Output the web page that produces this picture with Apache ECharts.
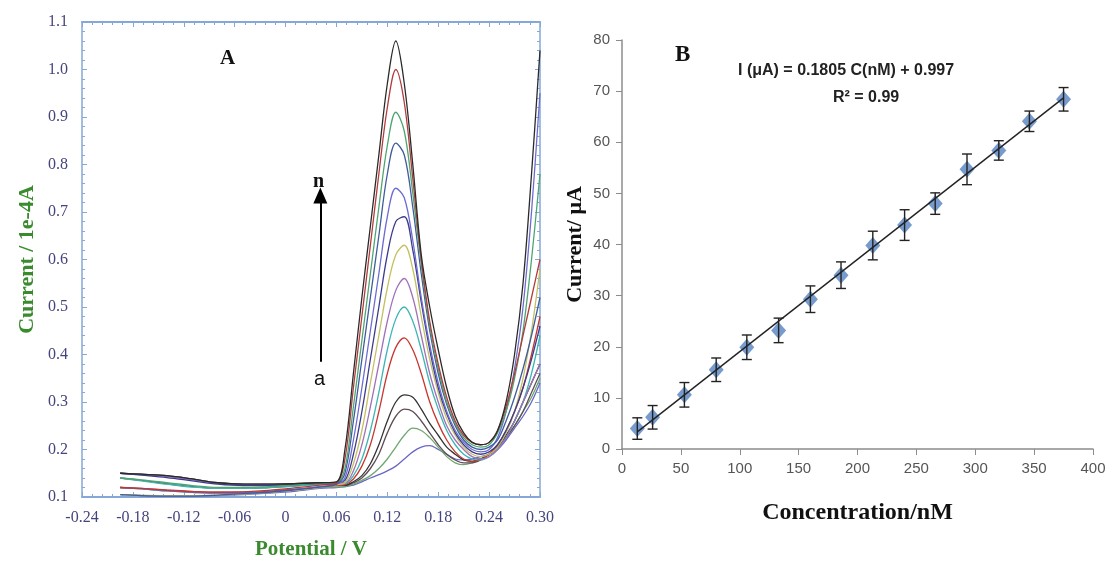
<!DOCTYPE html>
<html>
<head>
<meta charset="utf-8">
<script src="https://cdn.jsdelivr.net/npm/echarts@6/dist/echarts.min.js"></script>
<style>
  html, body { margin: 0; padding: 0; background: #fff; }
  #main { width: 1115px; height: 573px; }
</style>
</head>
<body>
<div id="main"></div>
<script>
// panel A: voltammograms a..n, potential in V, current in 1e-4 A
var potential = [-0.195, -0.17, -0.14, -0.11, -0.08, -0.05, -0.02, 0.01, 0.04, 0.06,
  0.07, 0.08, 0.09, 0.10, 0.11, 0.12, 0.13, 0.14, 0.15, 0.16,
  0.17, 0.18, 0.19, 0.20, 0.21, 0.22, 0.23, 0.24, 0.25, 0.26,
  0.27, 0.28, 0.29, 0.30];

var curveNames = ['a', 'b', 'c', 'd', 'e', 'f', 'g', 'h', 'i', 'j', 'k', 'l', 'm', 'n'];
var curveColors = ['#6a66c8', '#6fa86f', '#5e4d55', '#333333', '#c8372f', '#3fb4b4', '#a070b8',
  '#c4c062', '#3c3c8e', '#6c6cd0', '#3f5c9c', '#4ea572', '#b23c3c', '#2a2a2a'];

var cur_a = [0.105, 0.103, 0.102, 0.102, 0.103, 0.105, 0.108, 0.112, 0.118, 0.120,
  0.122, 0.125, 0.132, 0.140, 0.147, 0.155, 0.165, 0.180, 0.195, 0.205,
  0.208, 0.200, 0.190, 0.180, 0.178, 0.180, 0.185, 0.190, 0.200, 0.220,
  0.245, 0.270, 0.300, 0.340];
var cur_b = [0.120, 0.117, 0.113, 0.110, 0.108, 0.108, 0.110, 0.115, 0.120, 0.121,
  0.122, 0.127, 0.135, 0.145, 0.160, 0.180, 0.205, 0.230, 0.245, 0.240,
  0.225, 0.205, 0.185, 0.172, 0.168, 0.172, 0.180, 0.190, 0.205, 0.225,
  0.250, 0.280, 0.310, 0.350];
var cur_c = [0.140, 0.135, 0.128, 0.122, 0.118, 0.118, 0.120, 0.123, 0.127, 0.126,
  0.124, 0.130, 0.140, 0.160, 0.190, 0.235, 0.270, 0.285, 0.280, 0.260,
  0.235, 0.210, 0.190, 0.178, 0.172, 0.172, 0.178, 0.190, 0.205, 0.225,
  0.250, 0.280, 0.320, 0.360];
var cur_d = [0.150, 0.148, 0.145, 0.138, 0.130, 0.127, 0.127, 0.128, 0.130, 0.128,
  0.125, 0.132, 0.145, 0.170, 0.210, 0.260, 0.300, 0.315, 0.310, 0.285,
  0.255, 0.230, 0.205, 0.190, 0.178, 0.175, 0.180, 0.190, 0.205, 0.230,
  0.260, 0.300, 0.340, 0.380];
var cur_e = [0.120, 0.118, 0.115, 0.112, 0.110, 0.110, 0.112, 0.116, 0.121, 0.124,
  0.126, 0.138, 0.165, 0.210, 0.280, 0.360, 0.415, 0.435, 0.410, 0.360,
  0.300, 0.255, 0.220, 0.195, 0.180, 0.175, 0.178, 0.190, 0.210, 0.240,
  0.280, 0.330, 0.400, 0.480];
var cur_f = [0.140, 0.134, 0.127, 0.121, 0.118, 0.118, 0.120, 0.123, 0.126, 0.127,
  0.128, 0.145, 0.180, 0.240, 0.320, 0.410, 0.475, 0.500, 0.470, 0.410,
  0.340, 0.285, 0.240, 0.210, 0.190, 0.180, 0.178, 0.185, 0.200, 0.225,
  0.260, 0.300, 0.360, 0.440];
var cur_g = [0.150, 0.147, 0.143, 0.136, 0.129, 0.126, 0.126, 0.127, 0.129, 0.130,
  0.130, 0.155, 0.210, 0.290, 0.380, 0.470, 0.535, 0.560, 0.520, 0.440,
  0.360, 0.300, 0.250, 0.220, 0.200, 0.185, 0.180, 0.185, 0.200, 0.225,
  0.260, 0.300, 0.340, 0.380];
var cur_h = [0.105, 0.104, 0.103, 0.103, 0.104, 0.106, 0.109, 0.114, 0.120, 0.126,
  0.130, 0.170, 0.240, 0.340, 0.440, 0.540, 0.610, 0.630, 0.580, 0.480,
  0.390, 0.320, 0.265, 0.230, 0.205, 0.190, 0.185, 0.190, 0.205, 0.235,
  0.280, 0.350, 0.450, 0.580];
var cur_i = [0.150, 0.146, 0.141, 0.134, 0.127, 0.124, 0.124, 0.126, 0.129, 0.131,
  0.135, 0.190, 0.280, 0.390, 0.500, 0.610, 0.680, 0.690, 0.620, 0.510,
  0.410, 0.330, 0.275, 0.235, 0.210, 0.195, 0.190, 0.195, 0.210, 0.240,
  0.280, 0.330, 0.390, 0.460];
var cur_j = [0.120, 0.117, 0.113, 0.110, 0.108, 0.109, 0.111, 0.116, 0.122, 0.127,
  0.140, 0.220, 0.330, 0.450, 0.570, 0.690, 0.750, 0.730, 0.640, 0.520,
  0.420, 0.340, 0.280, 0.240, 0.215, 0.200, 0.195, 0.200, 0.225, 0.280,
  0.370, 0.500, 0.700, 0.950];
var cur_k = [0.105, 0.103, 0.102, 0.102, 0.104, 0.107, 0.110, 0.115, 0.121, 0.127,
  0.150, 0.260, 0.390, 0.520, 0.650, 0.780, 0.845, 0.820, 0.710, 0.570,
  0.450, 0.360, 0.295, 0.250, 0.220, 0.205, 0.200, 0.205, 0.220, 0.260,
  0.310, 0.370, 0.440, 0.520];
var cur_l = [0.140, 0.136, 0.130, 0.124, 0.120, 0.120, 0.122, 0.125, 0.129, 0.131,
  0.160, 0.290, 0.430, 0.570, 0.710, 0.840, 0.910, 0.870, 0.740, 0.590,
  0.460, 0.370, 0.300, 0.255, 0.225, 0.210, 0.205, 0.210, 0.235, 0.280,
  0.350, 0.450, 0.600, 0.780];
var cur_m = [0.120, 0.118, 0.114, 0.111, 0.110, 0.111, 0.114, 0.119, 0.125, 0.130,
  0.180, 0.330, 0.480, 0.630, 0.780, 0.920, 1.000, 0.930, 0.770, 0.600,
  0.470, 0.380, 0.310, 0.260, 0.230, 0.215, 0.210, 0.215, 0.240, 0.290,
  0.360, 0.440, 0.520, 0.600];
var cur_n = [0.150, 0.148, 0.145, 0.138, 0.130, 0.127, 0.127, 0.128, 0.130, 0.132,
  0.200, 0.360, 0.520, 0.670, 0.820, 0.970, 1.060, 0.970, 0.800, 0.610,
  0.500, 0.410, 0.330, 0.270, 0.235, 0.215, 0.210, 0.215, 0.240, 0.300,
  0.400, 0.550, 0.780, 1.040];
var currents = [cur_a, cur_b, cur_c, cur_d, cur_e, cur_f, cur_g, cur_h, cur_i, cur_j, cur_k, cur_l, cur_m, cur_n];

// panel B: calibration
var conc = [13, 26, 53, 80, 106, 133, 160, 186, 213, 240, 266, 293, 320, 346, 375];
var peakCurrent = [4.0, 6.2, 10.6, 15.5, 19.9, 23.2, 29.3, 34.0, 39.8, 43.8, 48.0, 54.7, 58.4, 64.1, 68.4];
var errBar = [2.1, 2.3, 2.4, 2.3, 2.4, 2.4, 2.6, 2.6, 2.8, 3.0, 2.1, 3.0, 1.9, 2.0, 2.3];
var fitLine = [[13, 3.34], [375, 68.68]];

var blueAxis = '#86a8d8';
var labelBlue = '#45457e';

var seriesA = currents.map(function (c, k) {
  return {
    name: curveNames[k],
    type: 'line',
    xAxisIndex: 0,
    yAxisIndex: 0,
    smooth: 0.35,
    symbol: 'none',
    lineStyle: { width: 1.3, color: curveColors[k] },
    data: potential.map(function (p, i) { return [p, c[i]]; }),
    z: 3
  };
});

// arrow a -> n
seriesA.push({
  type: 'line',
  xAxisIndex: 0,
  yAxisIndex: 0,
  data: [],
  markLine: {
    silent: true,
    symbol: ['none', 'triangle'],
    symbolSize: [14, 16],
    label: { show: false },
    lineStyle: { color: '#000', width: 2, type: 'solid' },
    data: [[{ coord: [0.041, 0.385] }, { coord: [0.041, 0.735] }]]
  }
});

var chart = echarts.init(document.getElementById('main'));

chart.setOption({
  animation: false,
  backgroundColor: '#fff',
  grid: [
    { left: 82, right: 575, top: 22, bottom: 76 },
    { left: 622, right: 22, top: 40, bottom: 124 }
  ],
  xAxis: [
    {
      gridIndex: 0, type: 'value', min: -0.24, max: 0.30, interval: 0.06,
      name: 'Potential / V', nameLocation: 'middle', nameGap: 42,
      nameTextStyle: { color: '#3a8a2e', fontFamily: 'Liberation Serif', fontWeight: 'bold', fontSize: 21 },
      axisLine: { onZero: false, lineStyle: { color: blueAxis, width: 2 } },
      axisTick: { inside: true, length: 5, lineStyle: { color: blueAxis } },
      minorTick: { show: true, splitNumber: 5, length: 3, lineStyle: { color: blueAxis } },
      splitLine: { show: false },
      axisLabel: {
        color: labelBlue, fontFamily: 'Liberation Serif', fontSize: 16, margin: 13,
        formatter: function (v) { return Math.abs(v) < 1e-9 ? '0' : v.toFixed(2); }
      }
    },
    {
      gridIndex: 0, type: 'value', position: 'top', min: -0.24, max: 0.30, interval: 0.06,
      axisLine: { onZero: false, lineStyle: { color: blueAxis, width: 2 } },
      axisTick: { inside: true, length: 5, lineStyle: { color: blueAxis } },
      minorTick: { show: true, splitNumber: 5, length: 3, lineStyle: { color: blueAxis } },
      splitLine: { show: false },
      axisLabel: { show: false }
    },
    {
      gridIndex: 1, type: 'value', min: 0, max: 400, interval: 50,
      name: 'Concentration/nM', nameLocation: 'middle', nameGap: 52,
      nameTextStyle: { color: '#111', fontFamily: 'Liberation Serif', fontWeight: 'bold', fontSize: 24 },
      axisLine: { onZero: false, lineStyle: { color: '#8c8c8c', width: 1.5 } },
      axisTick: { inside: false, length: 6, lineStyle: { color: '#8c8c8c' } },
      splitLine: { show: false },
      axisLabel: { color: '#555', fontFamily: 'Liberation Sans', fontSize: 15, margin: 12 }
    }
  ],
  yAxis: [
    {
      gridIndex: 0, type: 'value', min: 0.1, max: 1.1, interval: 0.1,
      name: 'Current / 1e-4A', nameLocation: 'middle', nameGap: 44,
      nameTextStyle: { color: '#3a8a2e', fontFamily: 'Liberation Serif', fontWeight: 'bold', fontSize: 22 },
      axisLine: { onZero: false, lineStyle: { color: blueAxis, width: 1.5 } },
      axisTick: { inside: true, length: 5, lineStyle: { color: blueAxis } },
      minorTick: { show: true, splitNumber: 5, length: 3, lineStyle: { color: blueAxis } },
      splitLine: { show: false },
      axisLabel: {
        color: labelBlue, fontFamily: 'Liberation Serif', fontSize: 16, margin: 14,
        formatter: function (v) { return v.toFixed(1); }
      }
    },
    {
      gridIndex: 0, type: 'value', position: 'right', min: 0.1, max: 1.1, interval: 0.1,
      axisLine: { onZero: false, lineStyle: { color: blueAxis, width: 1.5 } },
      axisTick: { inside: true, length: 5, lineStyle: { color: blueAxis } },
      minorTick: { show: true, splitNumber: 5, length: 3, lineStyle: { color: blueAxis } },
      splitLine: { show: false },
      axisLabel: { show: false }
    },
    {
      gridIndex: 1, type: 'value', min: 0, max: 80, interval: 10,
      name: 'Current/ μA', nameLocation: 'middle', nameGap: 36,
      nameTextStyle: { color: '#111', fontFamily: 'Liberation Serif', fontWeight: 'bold', fontSize: 22 },
      axisLine: { onZero: false, lineStyle: { color: '#8c8c8c', width: 1.5 } },
      axisTick: { inside: false, length: 6, lineStyle: { color: '#8c8c8c' } },
      splitLine: { show: false },
      axisLabel: { color: '#555', fontFamily: 'Liberation Sans', fontSize: 15, margin: 12 }
    }
  ],
  graphic: [
    { type: 'text', left: 220, top: 48, style: { text: 'A', font: 'bold 21px "Liberation Serif"', fill: '#111' } },
    { type: 'text', left: 313, top: 172, style: { text: 'n', font: 'bold 20px "Liberation Serif"', fill: '#111' } },
    { type: 'text', left: 314, top: 369, style: { text: 'a', font: '20px "Liberation Sans"', fill: '#111' } },
    { type: 'text', left: 675, top: 44, style: { text: 'B', font: 'bold 23px "Liberation Serif"', fill: '#111' } },
    { type: 'text', left: 738, top: 63, style: { text: 'I (μA) = 0.1805 C(nM) + 0.997', font: 'bold 16px "Liberation Sans"', fill: '#222' } },
    { type: 'text', left: 833, top: 90, style: { text: 'R² = 0.99', font: 'bold 16px "Liberation Sans"', fill: '#222' } }
  ],
  series: seriesA.concat([
    {
      type: 'scatter',
      xAxisIndex: 2, yAxisIndex: 2,
      symbol: 'diamond', symbolSize: [15, 17],
      itemStyle: { color: '#5582bf' },
      data: conc.map(function (c, i) { return [c, peakCurrent[i]]; }),
      z: 2
    },
    {
      type: 'custom',
      xAxisIndex: 2, yAxisIndex: 2,
      data: conc.map(function (c, i) { return [c, peakCurrent[i] - errBar[i], peakCurrent[i] + errBar[i]]; }),
      renderItem: function (params, api) {
        var lo = api.coord([api.value(0), api.value(1)]);
        var hi = api.coord([api.value(0), api.value(2)]);
        var w = 5;
        var st = { stroke: '#222', lineWidth: 1.4 };
        return {
          type: 'group',
          children: [
            { type: 'line', shape: { x1: lo[0], y1: lo[1], x2: hi[0], y2: hi[1] }, style: st },
            { type: 'line', shape: { x1: lo[0] - w, y1: lo[1], x2: lo[0] + w, y2: lo[1] }, style: st },
            { type: 'line', shape: { x1: hi[0] - w, y1: hi[1], x2: hi[0] + w, y2: hi[1] }, style: st }
          ]
        };
      },
      z: 4
    },
    {
      type: 'line',
      xAxisIndex: 2, yAxisIndex: 2,
      symbol: 'none',
      lineStyle: { color: '#222', width: 1.4 },
      data: fitLine,
      z: 5
    }
  ])
});
</script>
</body>
</html>
